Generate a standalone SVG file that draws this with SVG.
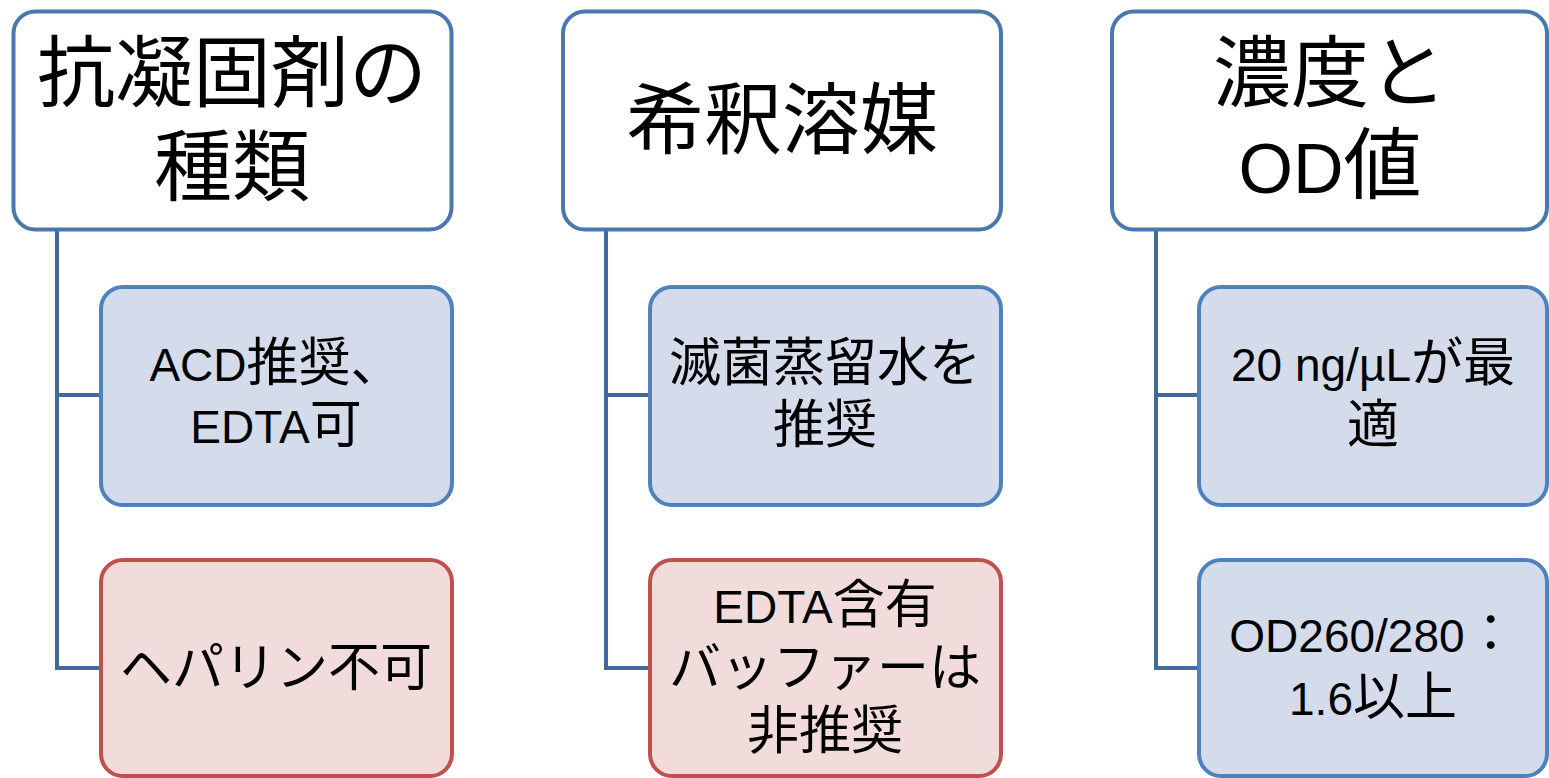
<svg xmlns="http://www.w3.org/2000/svg" width="1549" height="778" viewBox="0 0 1549 778">
<style>
.top{fill:#ffffff;stroke:#4a78ad;stroke-width:4}
.ok{fill:#d4dbea;stroke:#4f81bd;stroke-width:4}
.ng{fill:#f2dcdb;stroke:#c0504d;stroke-width:4}
.conn{fill:none;stroke:#41699a;stroke-width:4}
text{font-family:"Liberation Sans","Noto Sans CJK JP",sans-serif;fill:#000;text-anchor:middle}
.t{font-size:78px}
.c{font-size:52px}
.tl{font-size:70px}
.cl{font-size:46px}
</style>
<rect width="1549" height="778" fill="#fff"/>
<g id="connectors">
<path class="conn" d="M57,230 V668 H101 M57,395 H101"/>
<path class="conn" d="M606,230 V668 H650 M606,395 H650"/>
<path class="conn" d="M1156,230 V668 H1199 M1156,395 H1199"/>
</g>
<g id="n1">
<rect class="top" x="13.5" y="11.5" width="438" height="218" rx="22"/>
<text class="t" x="232" y="101">抗凝固剤の</text>
<text class="t" x="232" y="195">種類</text>
</g>
<g id="n1a">
<rect class="ok" x="101" y="287" width="351" height="218" rx="22"/>
<text class="c" x="276" y="381"><tspan class="cl">ACD</tspan>推奨、</text>
<text class="c" x="276" y="443"><tspan class="cl">EDTA</tspan>可</text>
</g>
<g id="n1b">
<rect class="ng" x="101" y="560" width="351" height="216" rx="22"/>
<text class="c" x="276" y="686">ヘパリン不可</text>
</g>
<g id="n2">
<rect class="top" x="563" y="11.5" width="438" height="218" rx="22"/>
<text class="t" x="782" y="148">希釈溶媒</text>
</g>
<g id="n2a">
<rect class="ok" x="650" y="287" width="351" height="218" rx="22"/>
<text class="c" x="825" y="381">滅菌蒸留水を</text>
<text class="c" x="825" y="443">推奨</text>
</g>
<g id="n2b">
<rect class="ng" x="650" y="560" width="351" height="216" rx="22"/>
<text class="c" x="825" y="623"><tspan class="cl">EDTA</tspan>含有</text>
<text class="c" x="825" y="686">バッファーは</text>
<text class="c" x="825" y="749">非推奨</text>
</g>
<g id="n3">
<rect class="top" x="1112" y="11.5" width="435" height="218" rx="22"/>
<text class="t" x="1330" y="101">濃度と</text>
<text class="t" x="1330" y="193"><tspan class="tl">OD</tspan>値</text>
</g>
<g id="n3a">
<rect class="ok" x="1199" y="287" width="348" height="218" rx="22"/>
<text class="c" x="1373" y="381"><tspan class="cl">20 ng/µL</tspan>が最</text>
<text class="c" x="1373" y="443">適</text>
</g>
<g id="n3b">
<rect class="ok" x="1199" y="560" width="348" height="216" rx="22"/>
<text class="c" x="1373" y="652"><tspan class="cl">OD260/280</tspan>：</text>
<text class="c" x="1373" y="715"><tspan class="cl">1.6</tspan>以上</text>
</g>
</svg>
